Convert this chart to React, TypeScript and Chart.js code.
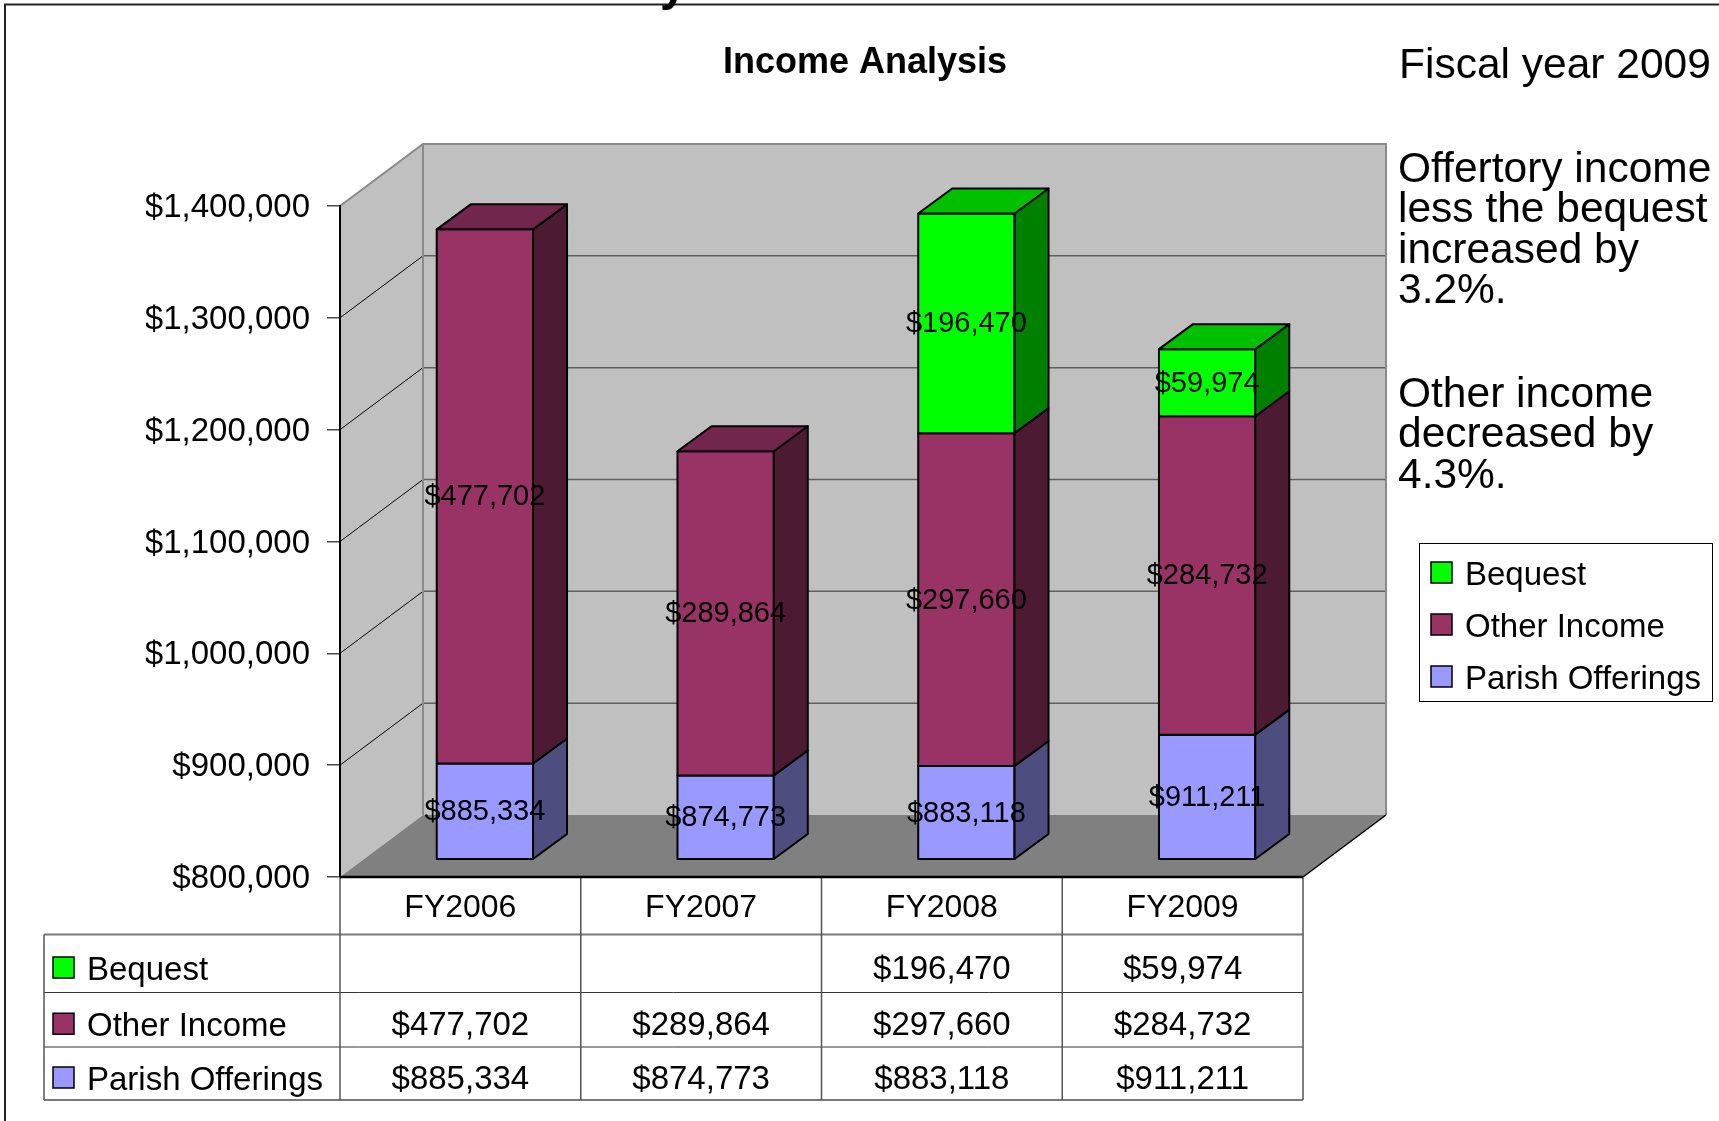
import React, { useEffect, useRef } from "react";
import { Chart, registerables } from "chart.js";

Chart.register(...registerables);

// ---------- data ----------
const categories = ["FY2006", "FY2007", "FY2008", "FY2009"];
const parishOfferings: (number | null)[] = [885334, 874773, 883118, 911211];
const otherIncome: (number | null)[] = [477702, 289864, 297660, 284732];
const bequest: (number | null)[] = [null, null, 196470, 59974];
const seriesNames = ["Parish Offerings", "Other Income", "Bequest"];
const yMin = 800000;
const yMax = 1400000;
const yStep = 100000;
const chartTitle = "Income Analysis";
const sideHeading = "Fiscal year 2009";
const note1 = ["Offertory income", "less the bequest", "increased by", "3.2%."];
const note2 = ["Other income", "decreased by", "4.3%."];

// ---------- styles ----------
const FONT = '"Liberation Sans", Arial, Helvetica, sans-serif';
const FRONT = ["#9999FF", "#993366", "#00FF00"];
const SIDE = ["#4D4D80", "#4D1A33", "#008000"];
const TOP = ["#7373BF", "#73264D", "#00C000"];
const WALL_DX = 83;
const WALL_DY = -62;
const BAR_OFF_DX = 24.5;
const BAR_OFF_DY = -18;
const BAR_DEPTH_DX = 34;
const BAR_DEPTH_DY = -25;
const TABLE_ROWS = [934.5, 992.5, 1047, 1100];
const TABLE_LEFT = 44;

const fmt = (v: number) => "$" + v.toLocaleString("en-US");
const seriesData = [parishOfferings, otherIncome, bequest];

const wallsPlugin = {
  id: "walls3d",
  beforeDraw(chart: any) {
    const { ctx, chartArea } = chart;
    const ys = chart.scales.y;
    const L = chartArea.left, R = chartArea.right, T = chartArea.top, B = chartArea.bottom;
    ctx.save();
    // back wall
    ctx.fillStyle = "#C0C0C0";
    ctx.fillRect(L + WALL_DX, T + WALL_DY, R - L, B - T);
    // side wall
    ctx.beginPath();
    ctx.moveTo(L, T);
    ctx.lineTo(L + WALL_DX, T + WALL_DY);
    ctx.lineTo(L + WALL_DX, B + WALL_DY);
    ctx.lineTo(L, B);
    ctx.closePath();
    ctx.fill();
    // floor
    ctx.fillStyle = "#808080";
    ctx.beginPath();
    ctx.moveTo(L, B);
    ctx.lineTo(R, B);
    ctx.lineTo(R + WALL_DX, B + WALL_DY);
    ctx.lineTo(L + WALL_DX, B + WALL_DY);
    ctx.closePath();
    ctx.fill();
    // gridlines
    ys.ticks.forEach((t: any) => {
      const y = ys.getPixelForValue(t.value);
      if (t.value === yMin || t.value === yMax) return;
      ctx.strokeStyle = "#5F5F5F";
      ctx.lineWidth = 1.5;
      ctx.beginPath();
      ctx.moveTo(L + WALL_DX, y + WALL_DY);
      ctx.lineTo(R + WALL_DX, y + WALL_DY);
      ctx.stroke();
      ctx.strokeStyle = "#000";
      ctx.lineWidth = 1;
      ctx.beginPath();
      ctx.moveTo(L, y);
      ctx.lineTo(L + WALL_DX, y + WALL_DY);
      ctx.stroke();
    });
    // wall edges
    ctx.strokeStyle = "#8A8A8A";
    ctx.lineWidth = 2;
    ctx.beginPath();
    ctx.moveTo(L, T);
    ctx.lineTo(L + WALL_DX, T + WALL_DY);
    ctx.lineTo(R + WALL_DX, T + WALL_DY);
    ctx.lineTo(R + WALL_DX, B + WALL_DY);
    ctx.stroke();
    ctx.beginPath();
    ctx.moveTo(L + WALL_DX, T + WALL_DY);
    ctx.lineTo(L + WALL_DX, B + WALL_DY);
    ctx.stroke();
    // floor right edge
    ctx.strokeStyle = "#000";
    ctx.lineWidth = 1.5;
    ctx.beginPath();
    ctx.moveTo(R, B);
    ctx.lineTo(R + WALL_DX, B + WALL_DY);
    ctx.stroke();
    ctx.restore();
  },
};

const barsPlugin = {
  id: "bars3d",
  afterDatasetsDraw(chart: any) {
    const { ctx, chartArea } = chart;
    ctx.save();
    const labels: { x: number; y: number; text: string }[] = [];
    for (let i = 0; i < categories.length; i++) {
      let topIdx = -1;
      seriesData.forEach((arr, d) => {
        const v = arr[i];
        if (v != null && v > 0) topIdx = d;
      });
      for (let d = 0; d < seriesData.length; d++) {
        const v = seriesData[d][i];
        if (v == null || v <= 0) continue;
        const el = chart.getDatasetMeta(d).data[i];
        if (!el) continue;
        const p = el.getProps(["x", "y", "base", "width"], true);
        let top = Math.min(p.y, p.base);
        let bot = Math.max(p.y, p.base);
        top = Math.max(top, chartArea.top - 200);
        bot = Math.min(bot, chartArea.bottom);
        if (bot <= top) continue;
        const xl = p.x - p.width / 2 + BAR_OFF_DX;
        const xr = p.x + p.width / 2 + BAR_OFF_DX;
        const yt = top + BAR_OFF_DY;
        const yb = bot + BAR_OFF_DY;
        ctx.lineWidth = 2;
        ctx.strokeStyle = "#000";
        ctx.lineJoin = "round";
        // front
        ctx.fillStyle = FRONT[d];
        ctx.beginPath();
        ctx.rect(xl, yt, xr - xl, yb - yt);
        ctx.fill();
        ctx.stroke();
        // side
        ctx.fillStyle = SIDE[d];
        ctx.beginPath();
        ctx.moveTo(xr, yb);
        ctx.lineTo(xr + BAR_DEPTH_DX, yb + BAR_DEPTH_DY);
        ctx.lineTo(xr + BAR_DEPTH_DX, yt + BAR_DEPTH_DY);
        ctx.lineTo(xr, yt);
        ctx.closePath();
        ctx.fill();
        ctx.stroke();
        if (d === topIdx) {
          ctx.fillStyle = TOP[d];
          ctx.beginPath();
          ctx.moveTo(xl, yt);
          ctx.lineTo(xr, yt);
          ctx.lineTo(xr + BAR_DEPTH_DX, yt + BAR_DEPTH_DY);
          ctx.lineTo(xl + BAR_DEPTH_DX, yt + BAR_DEPTH_DY);
          ctx.closePath();
          ctx.fill();
          ctx.stroke();
        }
        labels.push({ x: (xl + xr) / 2, y: (yt + yb) / 2, text: fmt(v) });
      }
    }
    ctx.fillStyle = "#000";
    ctx.font = `29px ${FONT}`;
    ctx.textAlign = "center";
    ctx.textBaseline = "middle";
    labels.forEach((l) => ctx.fillText(l.text, l.x, l.y + 1));
    ctx.restore();
  },
};

const decorPlugin = {
  id: "decor",
  afterDraw(chart: any) {
    const { ctx, chartArea } = chart;
    const xs = chart.scales.x;
    const L = chartArea.left, R = chartArea.right, B = chartArea.bottom;
    ctx.save();
    ctx.fillStyle = "#000";
    ctx.textBaseline = "alphabetic";

    // outer frame + clipped heading fragment
    ctx.strokeStyle = "#222";
    ctx.lineWidth = 2;
    ctx.beginPath();
    ctx.moveTo(5, 1121);
    ctx.lineTo(5, 4.5);
    ctx.lineTo(1719, 4.5);
    ctx.stroke();
    ctx.font = `bold 48px ${FONT}`;
    ctx.textAlign = "left";
    ctx.fillText("y", 660, 0);

    // title
    ctx.font = `bold 36px ${FONT}`;
    ctx.textAlign = "center";
    ctx.fillText(chartTitle, 865, 73);

    // side notes
    ctx.font = `42.5px ${FONT}`;
    ctx.textAlign = "left";
    ctx.fillText(sideHeading, 1399, 78);
    note1.forEach((s, k) => ctx.fillText(s, 1398, 182 + k * 40.4));
    note2.forEach((s, k) => ctx.fillText(s, 1398, 407 + k * 40.4));

    // legend box
    ctx.strokeStyle = "#000";
    ctx.lineWidth = 1;
    ctx.strokeRect(1419.5, 543.5, 293, 158);
    const order = [2, 1, 0];
    ctx.font = `33px ${FONT}`;
    order.forEach((d, k) => {
      const cy = 572.5 + k * 52;
      ctx.fillStyle = FRONT[d];
      ctx.fillRect(1431, cy - 10.5, 21, 21);
      ctx.lineWidth = 1.5;
      ctx.strokeStyle = "#000";
      ctx.strokeRect(1431, cy - 10.5, 21, 21);
      ctx.fillStyle = "#000";
      ctx.fillText(seriesNames[d], 1465, cy + 12);
    });

    // data table
    const bounds: number[] = [L];
    for (let i = 0; i < categories.length - 1; i++) {
      bounds.push((xs.getPixelForValue(i) + xs.getPixelForValue(i + 1)) / 2);
    }
    bounds.push(R);

    // horizontal lines
    ctx.strokeStyle = "#7A7A7A";
    ctx.lineWidth = 2;
    ctx.beginPath();
    ctx.moveTo(TABLE_LEFT, TABLE_ROWS[0]);
    ctx.lineTo(R, TABLE_ROWS[0]);
    ctx.moveTo(TABLE_LEFT, TABLE_ROWS[3]);
    ctx.lineTo(R, TABLE_ROWS[3]);
    ctx.stroke();
    ctx.strokeStyle = "#333";
    ctx.lineWidth = 1;
    ctx.beginPath();
    ctx.moveTo(TABLE_LEFT, TABLE_ROWS[1]);
    ctx.lineTo(R, TABLE_ROWS[1]);
    ctx.moveTo(TABLE_LEFT, TABLE_ROWS[2]);
    ctx.lineTo(R, TABLE_ROWS[2]);
    ctx.stroke();
    // vertical lines
    ctx.strokeStyle = "#555";
    ctx.lineWidth = 1.5;
    ctx.beginPath();
    ctx.moveTo(TABLE_LEFT, TABLE_ROWS[0]);
    ctx.lineTo(TABLE_LEFT, TABLE_ROWS[3]);
    bounds.forEach((bx) => {
      ctx.moveTo(bx, B);
      ctx.lineTo(bx, TABLE_ROWS[3]);
    });
    ctx.stroke();
    // floor front edge / x axis line
    ctx.strokeStyle = "#000";
    ctx.lineWidth = 2.5;
    ctx.beginPath();
    ctx.moveTo(L, B);
    ctx.lineTo(R, B);
    ctx.stroke();

    // header labels
    ctx.fillStyle = "#000";
    ctx.font = `32px ${FONT}`;
    ctx.textAlign = "center";
    categories.forEach((c, i) => {
      ctx.fillText(c, xs.getPixelForValue(i), 917);
    });
    // rows
    ctx.font = `33px ${FONT}`;
    order.forEach((d, r) => {
      const cy = (TABLE_ROWS[r] + TABLE_ROWS[r + 1]) / 2 + 4;
      ctx.fillStyle = FRONT[d];
      ctx.fillRect(53, cy - 10.5, 21, 21);
      ctx.strokeStyle = "#000";
      ctx.lineWidth = 1.5;
      ctx.strokeRect(53, cy - 10.5, 21, 21);
      ctx.fillStyle = "#000";
      ctx.textAlign = "left";
      ctx.fillText(seriesNames[d], 87, cy + 12);
      ctx.textAlign = "center";
      seriesData[d].forEach((v, i) => {
        if (v == null) return;
        ctx.fillText(fmt(v), xs.getPixelForValue(i), cy + 11);
      });
    });
    ctx.restore();
  },
};

export default function App() {
  const canvasRef = useRef<HTMLCanvasElement | null>(null);

  useEffect(() => {
    const canvas = canvasRef.current;
    if (!canvas) return;
    const chart = new Chart(canvas, {
      type: "bar",
      data: {
        labels: categories,
        datasets: seriesData.map((arr, d) => ({
          label: seriesNames[d],
          data: arr,
          backgroundColor: "rgba(0,0,0,0)",
          borderWidth: 0,
          barPercentage: 0.4,
          categoryPercentage: 1,
        })),
      },
      options: {
        animation: false,
        responsive: false,
        devicePixelRatio: 1,
        layout: { padding: { left: 146, top: 206, right: 416, bottom: 244 } },
        plugins: {
          legend: { display: false },
          title: { display: false },
          tooltip: { enabled: false },
        },
        scales: {
          x: { stacked: true, display: false },
          y: {
            stacked: true,
            min: yMin,
            max: yMax,
            ticks: {
              stepSize: yStep,
              padding: 17,
              labelOffset: 2,
              color: "#000",
              font: { family: FONT, size: 33 },
              callback: (v: any) => fmt(Number(v)),
            },
            grid: {
              drawOnChartArea: false,
              drawTicks: true,
              tickLength: 13,
              color: "#4A4A4A",
              lineWidth: 1.5,
            },
            border: { display: true, color: "#000", width: 2 },
            afterFit: (scale: any) => {
              scale.width = 194;
            },
          },
        },
      } as any,
      plugins: [wallsPlugin, barsPlugin, decorPlugin],
    });
    return () => chart.destroy();
  }, []);

  return (
    <div style={{ position: "absolute", left: 0, top: 0, width: 1719, height: 1121, background: "#fff" }}>
      <canvas ref={canvasRef} width={1719} height={1121} style={{ display: "block", width: 1719, height: 1121 }} />
    </div>
  );
}
